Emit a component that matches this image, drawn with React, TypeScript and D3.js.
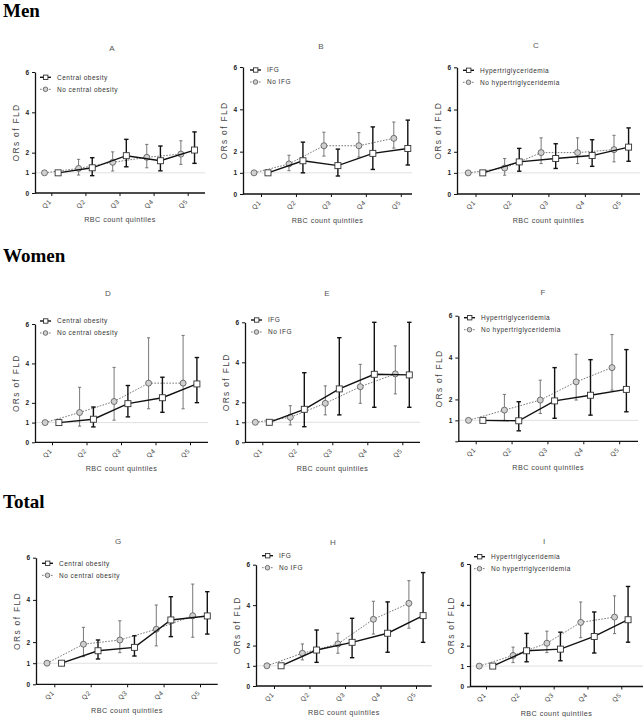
import { useEffect, useRef } from "react";
import * as d3 from "d3";

// x categories and y ticks shared by all panels
const quintiles = ["Q1", "Q2", "Q3", "Q4", "Q5"];
const yTickValues = [0, 1, 2, 4, 6];

// every series: [OR, lower 95% CI, upper 95% CI] for Q1..Q5 (Q1 = reference)
const menObese = [[1, 1, 1], [1.25, 0.86, 1.75], [1.85, 1.3, 2.66], [1.6, 1.1, 2.33], [2.13, 1.47, 3.03]];
const menNoObese = [[1, 1, 1], [1.22, 0.89, 1.67], [1.52, 1.09, 2.04], [1.77, 1.25, 2.41], [1.93, 1.42, 2.59]];
const menIFG = [[1, 1, 1], [1.57, 1.0, 2.45], [1.34, 0.85, 2.12], [1.92, 1.16, 3.17], [2.15, 1.37, 3.49]];
const menNoIFG = [[1, 1, 1], [1.42, 1.1, 1.83], [2.28, 1.79, 2.92], [2.28, 1.75, 2.9], [2.63, 2.17, 3.4]];
const menHTG = [[1, 1, 1], [1.52, 1.08, 2.16], [1.68, 1.21, 2.38], [1.82, 1.31, 2.57], [2.22, 1.55, 3.13]];
const menNoHTG = [[1, 1, 1], [1.23, 0.89, 1.68], [1.96, 1.44, 2.66], [1.96, 1.44, 2.66], [2.1, 1.52, 2.78]];

const womenObese = [[1, 1, 1], [1.17, 0.78, 1.79], [1.96, 1.29, 2.88], [2.26, 1.52, 3.3], [2.96, 2.01, 4.3]];
const womenNoObese = [[1, 1, 1], [1.51, 0.82, 2.79], [2.07, 1.12, 3.8], [3.0, 1.7, 5.3], [3.0, 1.7, 5.42]];
const womenIFG = [[1, 1, 1], [1.65, 0.78, 3.48], [2.67, 1.37, 5.23], [3.4, 1.75, 6.0], [3.37, 1.75, 6.0]];
const womenNoIFG = [[1, 1, 1], [1.25, 0.87, 1.83], [1.95, 1.37, 2.82], [2.78, 1.95, 3.9], [3.42, 2.42, 4.82]];
const womenHTG = [[1, 1, 1], [0.98, 0.5, 1.89], [1.93, 1.1, 3.52], [2.2, 1.25, 3.9], [2.48, 1.41, 4.38]];
const womenNoHTG = [[1, 1, 1], [1.49, 1.0, 2.24], [1.97, 1.33, 2.92], [2.84, 1.97, 4.16], [3.52, 2.44, 5.1]];

const totalObese = [[1, 1, 1], [1.59, 1.2, 2.1], [1.75, 1.34, 2.3], [3.05, 2.26, 4.15], [3.24, 2.38, 4.39]];
const totalNoObese = [[1, 1, 1], [1.9, 1.31, 2.7], [2.1, 1.5, 3.01], [2.61, 1.82, 3.76], [3.25, 2.23, 4.75]];
const totalIFG = [[1, 1, 1], [1.78, 1.17, 2.77], [2.16, 1.4, 3.35], [2.61, 1.67, 4.16], [3.48, 2.16, 5.61]];
const totalNoIFG = [[1, 1, 1], [1.62, 1.29, 2.08], [2.08, 1.62, 2.61], [3.3, 2.57, 4.19], [4.09, 2.86, 5.21]];
const totalHTG = [[1, 1, 1], [1.75, 1.21, 2.6], [1.83, 1.26, 2.66], [2.45, 1.64, 3.65], [3.27, 2.17, 4.9]];
const totalNoHTG = [[1, 1, 1], [1.52, 1.17, 1.93], [2.12, 1.66, 2.71], [3.14, 2.39, 4.14], [3.4, 2.59, 4.44]];

const obesityLegend = ["Central obesity", "No central obesity"];
const ifgLegend = ["IFG", "No IFG"];
const htgLegend = ["Hypertriglyceridemia", "No hypertriglyceridemia"];

const sections = [
  { name: "Men", y: 17 },
  { name: "Women", y: 262 },
  { name: "Total", y: 508 },
];

// panel placement on the page
const panels = [
  { id: "A", s1: menObese, s2: menNoObese, legend: obesityLegend, left: 35, right: 205, y0: 193, y6: 72, q1: 51.3, q5: 187.7, tx: 112, ty: 48, lx: 40, ly: 77.3, zero: true },
  { id: "B", s1: menIFG, s2: menNoIFG, legend: ifgLegend, left: 243, right: 412, y0: 194, y6: 67, q1: 261, q5: 400.8, tx: 321, ty: 46, lx: 250, ly: 70, zero: true },
  { id: "C", s1: menHTG, s2: menNoHTG, legend: htgLegend, left: 457, right: 640, y0: 194, y6: 67.3, q1: 475.5, q5: 621.3, tx: 536, ty: 45, lx: 463, ly: 70.3, zero: true },
  { id: "D", s1: womenObese, s2: womenNoObese, legend: obesityLegend, left: 35, right: 208, y0: 442.3, y6: 324, q1: 52, q5: 190, tx: 108, ty: 293, lx: 40, ly: 321, zero: true },
  { id: "E", s1: womenIFG, s2: womenNoIFG, legend: ifgLegend, left: 245, right: 420, y0: 442.3, y6: 322.3, q1: 262.3, q5: 402.3, tx: 327, ty: 293, lx: 251, ly: 320, zero: true },
  { id: "F", s1: womenHTG, s2: womenNoHTG, legend: htgLegend, left: 458.3, right: 638, y0: 441.3, y6: 315.7, q1: 475.7, q5: 619.2, tx: 543, ty: 292, lx: 464, ly: 317.7, zero: false },
  { id: "G", s1: totalObese, s2: totalNoObese, legend: obesityLegend, left: 36, right: 217.7, y0: 684.3, y6: 557.7, q1: 54.3, q5: 200, tx: 118, ty: 541, lx: 42, ly: 563.3, zero: true },
  { id: "H", s1: totalIFG, s2: totalNoIFG, legend: ifgLegend, left: 256, right: 431.7, y0: 686, y6: 564.7, q1: 274, q5: 416, tx: 333, ty: 542, lx: 262, ly: 555.7, zero: true },
  { id: "I", s1: totalHTG, s2: totalNoHTG, legend: htgLegend, left: 470, right: 643, y0: 686.5, y6: 564, q1: 486, q5: 621.3, tx: 544, ty: 541, lx: 474, ly: 556.7, zero: true },
];

const FONT = "'Liberation Sans', Arial, sans-serif";
const BLACK = "#111";
const GREY = "#6a6a6a";

const App = () => {
  const svgRef = useRef(null);

  useEffect(() => {
    document.body.style.margin = "0";
    const svg = d3.select(svgRef.current);
    svg.selectAll("*").remove();

    svg
      .selectAll("text.section")
      .data(sections)
      .enter()
      .append("text")
      .attr("class", "section")
      .attr("x", 3)
      .attr("y", (d) => d.y)
      .attr("font-family", "'Liberation Serif', 'Times New Roman', serif")
      .attr("font-weight", "bold")
      .attr("font-size", 19)
      .text((d) => d.name);

    panels.forEach((p) => {
      const g = svg.append("g");
      const x = d3.scalePoint().domain(quintiles).range([p.q1, p.q5]);
      const y = d3.scaleLinear().domain([0, 6]).range([p.y0, p.y6]);
      const off = x.step() * 0.2;

      // reference line at OR = 1
      g.append("line")
        .attr("x1", p.left)
        .attr("x2", p.right)
        .attr("y1", y(1))
        .attr("y2", y(1))
        .attr("stroke", "#d8d8d8")
        .attr("stroke-width", 0.8);

      // y axis
      const yAxis = g
        .append("g")
        .attr("transform", "translate(" + p.left + ",0)")
        .call(
          d3
            .axisLeft(y)
            .tickValues(yTickValues)
            .tickSize(3)
            .tickSizeOuter(0)
            .tickFormat((d) => (d === 0 && !p.zero ? "" : String(d)))
        );
      yAxis.select(".domain").attr("stroke", BLACK).attr("stroke-width", 1.3);
      yAxis.selectAll(".tick line").attr("stroke", BLACK).attr("stroke-width", 1);
      yAxis
        .selectAll(".tick text")
        .attr("x", -6)
        .attr("font-family", FONT)
        .attr("font-size", 6.5)
        .attr("font-weight", "bold")
        .attr("fill", "#222");

      // x axis
      const xAxis = g
        .append("g")
        .attr("transform", "translate(0," + p.y0 + ")")
        .call(d3.axisBottom(x).tickSize(3).tickSizeOuter(0));
      xAxis.select(".domain").remove();
      xAxis.selectAll(".tick line").attr("stroke", BLACK).attr("stroke-width", 1);
      xAxis
        .selectAll(".tick text")
        .attr("font-family", FONT)
        .attr("font-size", 6.5)
        .attr("fill", "#444")
        .attr("letter-spacing", 0.6)
        .attr("text-anchor", "end")
        .attr("dy", 0)
        .attr("y", 0)
        .attr("transform", "translate(0,9) rotate(-45)");
      g.append("line")
        .attr("x1", p.left)
        .attr("x2", p.right)
        .attr("y1", p.y0)
        .attr("y2", p.y0)
        .attr("stroke", BLACK)
        .attr("stroke-width", 1.3);

      // axis titles
      g.append("text")
        .attr("x", (p.left + p.right) / 2)
        .attr("y", p.y0 + 29)
        .attr("text-anchor", "middle")
        .attr("font-family", FONT)
        .attr("font-size", 7.2)
        .attr("letter-spacing", 0.45)
        .attr("fill", "#444")
        .text("RBC count quintiles");
      g.append("text")
        .attr("transform", "translate(" + (p.left - 16) + "," + (p.y0 + p.y6) / 2 + ") rotate(-90)")
        .attr("text-anchor", "middle")
        .attr("font-family", FONT)
        .attr("font-size", 8.5)
        .attr("letter-spacing", 1.3)
        .attr("fill", "#444")
        .text("ORs of FLD");
      g.append("text")
        .attr("x", p.tx)
        .attr("y", p.ty + 3)
        .attr("text-anchor", "middle")
        .attr("font-family", FONT)
        .attr("font-size", 8)
        .attr("fill", "#555")
        .text(p.id);

      const drawSeries = (data, dx, solid) => {
        const color = solid ? BLACK : GREY;
        const px = (i) => x(quintiles[i]) + dx;
        const line = d3
          .line()
          .x((d, i) => px(i))
          .y((d) => y(d[0]));
        g.append("path")
          .datum(data)
          .attr("d", line)
          .attr("fill", "none")
          .attr("stroke", color)
          .attr("stroke-width", solid ? 1.4 : 0.9)
          .attr("stroke-dasharray", solid ? null : "1.6,1.4");

        const bars = g
          .append("g")
          .selectAll("g")
          .data(data.slice(1))
          .enter()
          .append("g");
        const cap = solid ? 2.2 : 1.6;
        bars
          .append("line")
          .attr("x1", (d, i) => px(i + 1))
          .attr("x2", (d, i) => px(i + 1))
          .attr("y1", (d) => y(Math.min(d[2], 6)))
          .attr("y2", (d) => y(d[1]))
          .attr("stroke", color)
          .attr("stroke-width", solid ? 1.4 : 0.9);
        [1, 2].forEach((k) => {
          bars
            .append("line")
            .attr("x1", (d, i) => px(i + 1) - cap)
            .attr("x2", (d, i) => px(i + 1) + cap)
            .attr("y1", (d) => y(Math.min(d[k], 6)))
            .attr("y2", (d) => y(Math.min(d[k], 6)))
            .attr("stroke", color)
            .attr("stroke-width", solid ? 1.4 : 0.9);
        });

        if (solid) {
          g.append("g")
            .selectAll("rect")
            .data(data)
            .enter()
            .append("rect")
            .attr("x", (d, i) => px(i) - 3)
            .attr("y", (d) => y(d[0]) - 3)
            .attr("width", 6)
            .attr("height", 6)
            .attr("fill", "#fff")
            .attr("stroke", "#333")
            .attr("stroke-width", 0.9);
        } else {
          g.append("g")
            .selectAll("circle")
            .data(data)
            .enter()
            .append("circle")
            .attr("cx", (d, i) => px(i))
            .attr("cy", (d) => y(d[0]))
            .attr("r", 3)
            .attr("fill", "#d0d0d0")
            .attr("stroke", "#555")
            .attr("stroke-width", 0.8);
        }
      };

      drawSeries(p.s2, -off, false);
      drawSeries(p.s1, off, true);

      // legend
      const row2 = p.ly + 12;
      g.append("line")
        .attr("x1", p.lx)
        .attr("x2", p.lx + 11)
        .attr("y1", p.ly)
        .attr("y2", p.ly)
        .attr("stroke", BLACK)
        .attr("stroke-width", 1.4);
      g.append("rect")
        .attr("x", p.lx + 3.5)
        .attr("y", p.ly - 2.2)
        .attr("width", 4.4)
        .attr("height", 4.4)
        .attr("fill", "#fff")
        .attr("stroke", "#333")
        .attr("stroke-width", 0.9);
      g.append("line")
        .attr("x1", p.lx)
        .attr("x2", p.lx + 11)
        .attr("y1", row2)
        .attr("y2", row2)
        .attr("stroke", GREY)
        .attr("stroke-width", 0.9)
        .attr("stroke-dasharray", "1.6,1.4");
      g.append("circle")
        .attr("cx", p.lx + 5.5)
        .attr("cy", row2)
        .attr("r", 2.3)
        .attr("fill", "#d0d0d0")
        .attr("stroke", "#555")
        .attr("stroke-width", 0.8);
      [p.ly, row2].forEach((ry, i) => {
        g.append("text")
          .attr("x", p.lx + 17)
          .attr("y", ry + 2.3)
          .attr("font-family", FONT)
          .attr("font-size", 6.5)
          .attr("letter-spacing", 0.5)
          .attr("fill", "#333")
          .text(p.legend[i]);
      });
    });
  }, []);

  return <svg ref={svgRef} width={643} height={717} style={{ display: "block", background: "#fff" }} />;
};

export default App;
